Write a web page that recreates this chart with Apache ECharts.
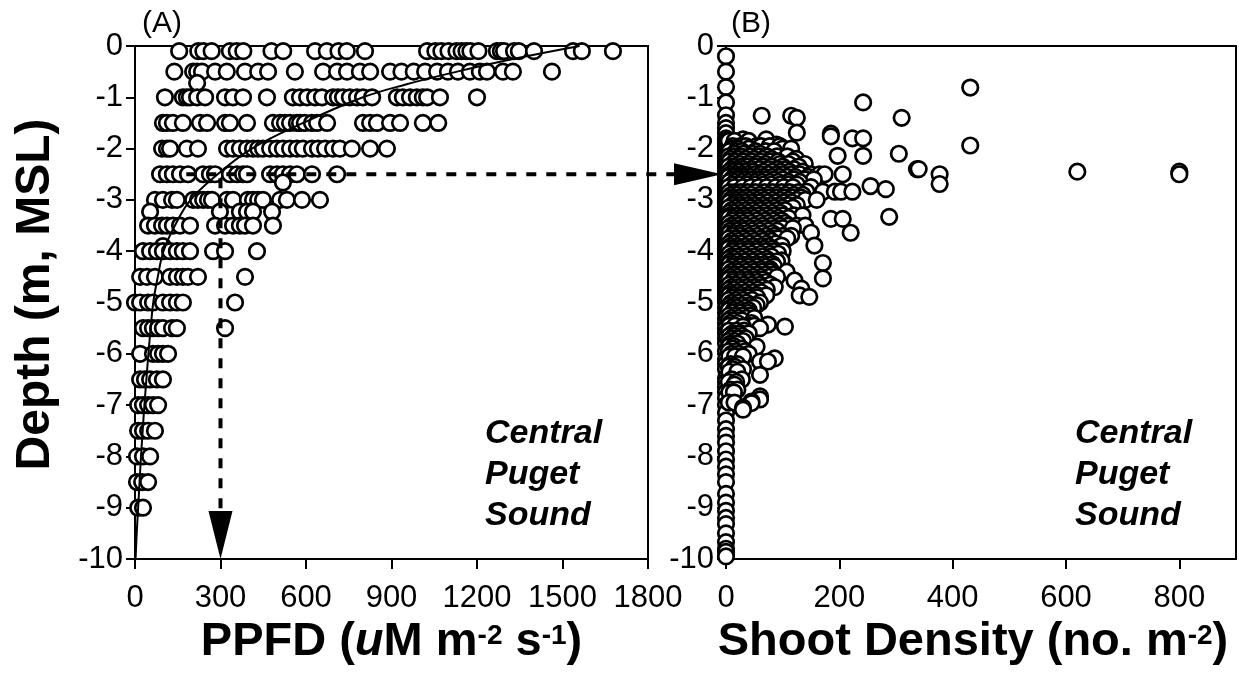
<!DOCTYPE html>
<html><head><meta charset="utf-8">
<script src="https://cdn.jsdelivr.net/npm/echarts@6/dist/echarts.min.js"></script>
<style>html,body{margin:0;padding:0;background:#fff}#c{width:1239px;height:675px}</style>
</head><body><div id="c"></div>
<script>
// ---------- tick labels ----------
const ppfdTicks = [0, 300, 600, 900, 1200, 1500, 1800];
const shootTicks = [0, 200, 400, 600, 800];
const depthTicks = [-10, -9, -8, -7, -6, -5, -4, -3, -2, -1, 0];

// ---------- panel A: PPFD observations, rows of [depth, [PPFD values]] ----------
const ppfdRows = [
  [-0.1, [155,222,240,269,333,357,380,479,520,632,673,714,743,807,1025,1054,1075,1100,1128,1146,1163,1177,1205,1270,1284,1295,1330,1347,1400,1537,1568,1677]],
  [-0.5, [138,204,218,235,281,322,386,432,467,561,660,709,744,789,825,895,935,978,1018,1060,1098,1133,1175,1210,1235,1291,1326,1463]],
  [-0.72, [218]],
  [-1.0, [105,168,182,193,218,246,316,344,379,463,554,579,604,632,656,695,712,730,754,779,800,832,919,940,965,989,1010,1025,1070,1200]],
  [-1.5, [98,112,133,168,228,253,316,333,393,484,509,526,544,568,579,596,621,639,674,800,825,849,895,930,1010,1064]],
  [-2.0, [95,112,123,182,221,323,344,368,393,414,432,449,474,498,519,544,568,589,621,642,667,695,719,761,825,884]],
  [-2.5, [88,112,133,158,186,239,263,281,333,358,379,393,474,498,519,544,568,621,709]],
  [-2.66, [519]],
  [-3.0, [70,98,130,147,204,221,239,256,270,323,344,396,414,432,449,509,533,586,649]],
  [-3.23, [53,298,368,393,414,481]],
  [-3.5, [46,70,95,112,133,158,193,281,316,344,368,386,414,484]],
  [-3.9, [98]],
  [-4.0, [28,53,77,98,123,147,168,193,274,316,428]],
  [-4.5, [18,42,70,123,147,168,186,221,386]],
  [-5.0, [0,18,46,63,98,123,147,168,351]],
  [-5.5, [28,46,63,81,98,130,147,316]],
  [-6.0, [18,63,81,98,116]],
  [-6.5, [18,35,53,77,98]],
  [-7.0, [11,28,46,63,81]],
  [-7.5, [11,28,46,70]],
  [-8.0, [7,28,53]],
  [-8.5, [7,25,46]],
  [-9.0, [11,28]]
];

// ---------- panel A: fitted light-attenuation curve ----------
const curveDepth = [0, -0.25, -0.5, -0.75, -1, -1.5, -2, -2.5, -3, -3.5, -4, -4.5, -5, -5.5, -6, -6.5, -7, -7.5, -8, -8.5, -9, -9.5, -10];
const curvePPFD  = [1560, 1330, 1130, 950, 800, 590, 410, 290, 195, 140, 100, 80, 64, 55, 47, 40, 33, 27, 21, 16, 11, 6, 2];

// ---------- panel B: shoot density ----------
const shootZeroDepths = [-0.2,-0.5,-0.8,-1.1,-1.35,-1.5,-1.6,-1.7,-1.8,-1.85,-1.9,-1.95,-2.0,-2.05,-2.1,-2.15,-2.2,-2.25,-2.3,-2.35,-2.4,-2.45,-2.5,-2.55,-2.6,-2.65,-2.7,-2.75,-2.8,-2.85,-2.9,-2.95,-3.0,-3.05,-3.1,-3.15,-3.2,-3.25,-3.3,-3.35,-3.4,-3.45,-3.5,-3.55,-3.6,-3.65,-3.7,-3.75,-3.8,-3.85,-3.9,-3.95,-4.0,-4.05,-4.1,-4.15,-4.2,-4.25,-4.3,-4.35,-4.4,-4.45,-4.5,-4.55,-4.6,-4.65,-4.7,-4.75,-4.8,-4.85,-4.9,-4.95,-5.0,-5.1,-5.2,-5.3,-5.4,-5.5,-5.6,-5.7,-5.8,-5.95,-6.1,-6.2,-6.3,-6.47,-6.55,-6.65,-6.75,-6.86,-7.0,-7.15,-7.3,-7.47,-7.6,-7.73,-7.9,-8.06,-8.2,-8.35,-8.5,-8.73,-8.9,-9.06,-9.2,-9.32,-9.5,-9.67,-9.8,-9.86,-9.95];
const shootRows = [
  [-0.81, [431]], [-1.10, [242]], [-1.36, [63,115]], [-1.40, [125,310]],
  [-1.69, [125]], [-1.71, [185]], [-1.76, [185]], [-1.80, [223,242]],
  [-1.82, [30,71]], [-1.85, [5,15,40]], [-1.92, [89]], [-1.94, [431]], [-1.95, [12,25,35,54,62,77,95]],
  [-2.0, [10,20,40,100,115]], [-2.05, [6,18,28,52,70,85]], [-2.1, [15,30,48,60,305]], [-2.14, [197,242]],
  [-2.15, [5,14,26,42,58,72,90,108]], [-2.2, [8,22,35,50,65,80,124]], [-2.25, [6,16,30,45,60,78,92,118]],
  [-2.3, [12,25,40,55,70,95,110,139]], [-2.35, [5,15,28,38,52,66,80,100,128]],
  [-2.4, [10,20,30,45,60,75,90,105,120,337,340]], [-2.45, [6,14,24,36,48,66,82,96,112,135,620,800]],
  [-2.5, [8,18,28,38,50,62,75,90,100,115,130,150,165,174,206,377,800]],
  [-2.55, [5,14,25,34,44,56,68,82,95,108,122,145]],
  [-2.6, [10,22,34,46,58,70,85,100,120,140,155]], [-2.65, [6,16,28,40,52,64,78,92,110,130]],
  [-2.69, [377]], [-2.73, [255]],
  [-2.7, [12,25,38,52,66,80,95,110,125]], [-2.75, [5,15,30,44,58,72,88,102,118,150]], [-2.79, [282]],
  [-2.84, [142,171,192,203,223]], [-2.85, [6,16,26,38,52,68,82,98,112,128]],
  [-2.9, [10,20,32,45,60,75,90,105,120,135]], [-2.95, [5,14,25,36,50,62,76,90,102,118,132]],
  [-3.0, [8,18,30,42,55,68,82,96,110,125,140,160]], [-3.05, [6,16,26,36,48,60,74,88,102,116]],
  [-3.1, [12,25,38,50,65,80,95,110,125]], [-3.15, [5,18,30,44,58,72,86,100,118]],
  [-3.2, [10,22,35,48,60,75,90,104]], [-3.25, [6,16,28,40,54,68,82,96]],
  [-3.3, [8,20,32,45,58,72,86,100,120,135]], [-3.33, [288]], [-3.35, [5,14,26,38,50,64,78,92,110]], [-3.37, [185,206]],
  [-3.4, [12,26,40,55,70,85,98]], [-3.45, [6,18,30,44,60,74,90,104]],
  [-3.5, [10,22,35,50,65,80,95,110,125,140]], [-3.55, [5,15,28,42,56,70,86,100,118]],
  [-3.6, [8,20,32,46,60,75,90]], [-3.64, [150,220]], [-3.65, [6,14,26,38,52,66,82]],
  [-3.7, [12,25,40,55,70,85,100,115]], [-3.75, [5,18,32,46,62,78,92,108]],
  [-3.8, [10,22,36,50,65,80]], [-3.85, [6,16,28,42,56,72,88]],
  [-3.89, [98,156]], [-3.9, [8,20,34,48,62,75]], [-3.95, [5,14,26,40,54,68,82]],
  [-4.0, [12,26,40,55,70,85,100]], [-4.05, [6,18,32,46,62,78,92]],
  [-4.1, [10,22,36,50,65,80]], [-4.15, [5,15,28,42,56,72]], [-4.18, [98]], [-4.23, [171]],
  [-4.2, [8,20,34,48,62,76,90]], [-4.25, [6,14,26,40,54,68,82]],
  [-4.3, [12,25,40,55,70,85]], [-4.35, [5,18,32,46,62,78]],
  [-4.4, [10,22,36,50,64,78,107]], [-4.45, [6,16,28,42,56,70,84]],
  [-4.5, [8,20,34,48,62,76,90]], [-4.53, [171]], [-4.55, [5,14,26,40,54,66]],
  [-4.57, [121]], [-4.6, [12,25,40,55,70]], [-4.65, [6,18,32,46,60,78]],
  [-4.7, [10,22,36,50,64,86]], [-4.73, [133]], [-4.75, [5,15,28,42,56,72]],
  [-4.8, [8,20,34,48,62]], [-4.85, [6,14,26,40,54]], [-4.86, [71,130]], [-4.89, [147]],
  [-4.9, [12,25,40,55]], [-4.95, [5,18,30,46]],
  [-5.0, [10,22,36,60]], [-5.05, [6,16,28,42,54]], [-5.1, [8,20,34,48]], [-5.15, [5,14,26,40]],
  [-5.2, [12,25,40]], [-5.25, [6,18,30,44]], [-5.3, [10,22,36,50]], [-5.35, [5,15,28]],
  [-5.4, [8,20,45]], [-5.43, [74]], [-5.45, [6,16,38,50]], [-5.47, [30,104]], [-5.5, [60]],
  [-5.55, [5,18,32]], [-5.6, [12,25,40]], [-5.65, [6,14,28]], [-5.7, [10,22,35]], [-5.75, [5,16,30]],
  [-5.8, [8,20]], [-5.85, [6,14]], [-5.86, [54]], [-5.9, [12,28]], [-5.95, [5,18,34]],
  [-6.0, [10,22,40]], [-6.05, [6,16,30]], [-6.09, [86]], [-6.15, [60,74]], [-6.2, [8,20]],
  [-6.25, [5,15]], [-6.3, [12,30]], [-6.35, [6,20]],
  [-6.41, [60]], [-6.5, [10,28]], [-6.55, [5,18]], [-6.6, [15]], [-6.7, [8,20]], [-6.75, [6,14]],
  [-6.83, [60]], [-6.89, [60]], [-6.93, [45]], [-6.95, [5,15]], [-6.96, [45]], [-7.05, [30]], [-7.09, [30]]
];

// ---------- annotation: 300 PPFD at -2.5 m ----------
const arrowPoint = [300, -2.5];
const arrowStartPPFD = 180;

// ---------- build ----------
const FONT = '"Liberation Sans", Arial, Helvetica, sans-serif';
const ppfdData = [];
ppfdRows.forEach(([d, xs]) => xs.forEach(x => ppfdData.push([x, d])));
const curveData = curveDepth.map((d, i) => [curvePPFD[i], d]);
const shootData = [];
shootZeroDepths.forEach(d => shootData.push([0, d]));
shootRows.forEach(([d, xs]) => xs.forEach(x => shootData.push([x, d])));

const tickLabel = { fontSize: 31, color: '#000', fontFamily: FONT, formatter: v => String(v) };
function richName(pad) {
  return {
    padding: pad,
    rich: {
      b: { fontSize: 47, fontWeight: 'bold', color: '#000', fontFamily: FONT },
      i: { fontSize: 47, fontWeight: 'bold', fontStyle: 'italic', color: '#000', fontFamily: FONT },
      s: { fontSize: 28, fontWeight: 'bold', color: '#000', fontFamily: FONT, verticalAlign: 'top', padding: [3, 0, 0, 0] }
    }
  };
}
function xAxisCfg(grid, max, ticks, name, pad) {
  return {
    type: 'value', gridIndex: grid, min: 0, max: max,
    axisLine: { show: true, onZero: false, lineStyle: { color: '#000', width: 2 } },
    axisTick: { show: true, length: 10, customValues: ticks, lineStyle: { color: '#000', width: 2 } },
    axisLabel: Object.assign({ customValues: ticks, margin: 24 }, tickLabel),
    splitLine: { show: false },
    name: name, nameLocation: 'middle', nameGap: 58,
    nameTextStyle: richName(pad)
  };
}
function yAxisCfg(grid, withName) {
  const cfg = {
    type: 'value', gridIndex: grid, min: -10, max: 0,
    axisLine: { show: true, onZero: false, lineStyle: { color: '#000', width: 2 } },
    axisTick: { show: true, length: 9, customValues: depthTicks, lineStyle: { color: '#000', width: 2 } },
    axisLabel: Object.assign({ customValues: depthTicks, margin: 12 }, tickLabel),
    splitLine: { show: false }
  };
  if (withName) {
    cfg.name = 'Depth (m, MSL)';
    cfg.nameLocation = 'middle';
    cfg.nameGap = 75;
    cfg.nameRotate = 90;
    cfg.nameTextStyle = { fontSize: 48, fontWeight: 'bold', color: '#000', fontFamily: FONT, padding: [0, 0, 0, 16] };
  }
  return cfg;
}
const circle = { color: '#fff', opacity: 1, borderColor: '#000', borderWidth: 2.7 };

const chart = echarts.init(document.getElementById('c'), null, { renderer: 'canvas' });
chart.setOption({
  animation: false,
  backgroundColor: '#fff',
  grid: [
    { left: 135, top: 46, width: 513, height: 513, show: true, borderColor: '#000', borderWidth: 2, backgroundColor: 'transparent' },
    { left: 726, top: 46, width: 510, height: 513, show: true, borderColor: '#000', borderWidth: 2, backgroundColor: 'transparent' }
  ],
  title: [
    { text: '(A)', left: 137, top: 4, textStyle: { fontSize: 30, fontWeight: 'normal', color: '#000', fontFamily: FONT } },
    { text: '(B)', left: 726, top: 4, textStyle: { fontSize: 30, fontWeight: 'normal', color: '#000', fontFamily: FONT } },
    { text: 'Central\nPuget\nSound', left: 480, top: 408, textStyle: { fontSize: 34, fontWeight: 'bold', fontStyle: 'italic', lineHeight: 41, color: '#000', fontFamily: FONT } },
    { text: 'Central\nPuget\nSound', left: 1070, top: 408, textStyle: { fontSize: 34, fontWeight: 'bold', fontStyle: 'italic', lineHeight: 41, color: '#000', fontFamily: FONT } }
  ],
  xAxis: [
    xAxisCfg(0, 1800, ppfdTicks, '{b|PPFD (}{i|u}{b|M m}{s|-2}{b| s}{s|-1}{b|)}', [0, 0, 0, 0]),
    xAxisCfg(1, 900, shootTicks, '{b|Shoot Density (no. m}{s|-2}{b|)}', [0, 16, 0, 0])
  ],
  yAxis: [yAxisCfg(0, true), yAxisCfg(1, false)],
  series: [
    { type: 'scatter', xAxisIndex: 0, yAxisIndex: 0, data: ppfdData, symbol: 'circle', symbolSize: 15.5, itemStyle: circle, z: 3, large: false },
    { type: 'line', xAxisIndex: 0, yAxisIndex: 0, data: curveData, smooth: 0.4, showSymbol: false, symbol: 'none', lineStyle: { color: '#000', width: 2 }, z: 4 },
    { type: 'scatter', xAxisIndex: 1, yAxisIndex: 1, data: shootData, symbol: 'circle', symbolSize: 15.5, itemStyle: circle, z: 3, large: false }
  ]
});

// dashed arrows (annotation) positioned through the axes' own scales
const pA = chart.convertToPixel({ gridIndex: 0 }, arrowPoint);
const pStart = chart.convertToPixel({ gridIndex: 0 }, [arrowStartPPFD, arrowPoint[1]]);
const pB = chart.convertToPixel({ gridIndex: 1 }, [0, arrowPoint[1]]);
const pBottom = chart.convertToPixel({ gridIndex: 0 }, [arrowPoint[0], -10]);
const tipX = pB[0] - 4, headL = 48, headW = 11;
const dash = { stroke: '#000', lineWidth: 4, lineDash: [10, 10], fill: null };
chart.setOption({
  graphic: [
    { type: 'line', z: 100, shape: { x1: pStart[0], y1: pA[1], x2: tipX - headL + 2, y2: pA[1] }, style: dash },
    { type: 'polygon', z: 100, shape: { points: [[tipX - headL, pA[1] - headW], [tipX, pA[1]], [tipX - headL, pA[1] + headW]] }, style: { fill: '#000' } },
    { type: 'line', z: 100, shape: { x1: pA[0], y1: pA[1] + 4, x2: pA[0], y2: pBottom[1] - headL + 2 }, style: dash },
    { type: 'polygon', z: 100, shape: { points: [[pA[0] - 12, pBottom[1] - headL], [pA[0] + 12, pBottom[1] - headL], [pA[0], pBottom[1]]] }, style: { fill: '#000' } }
  ]
});
</script>
</body></html>
